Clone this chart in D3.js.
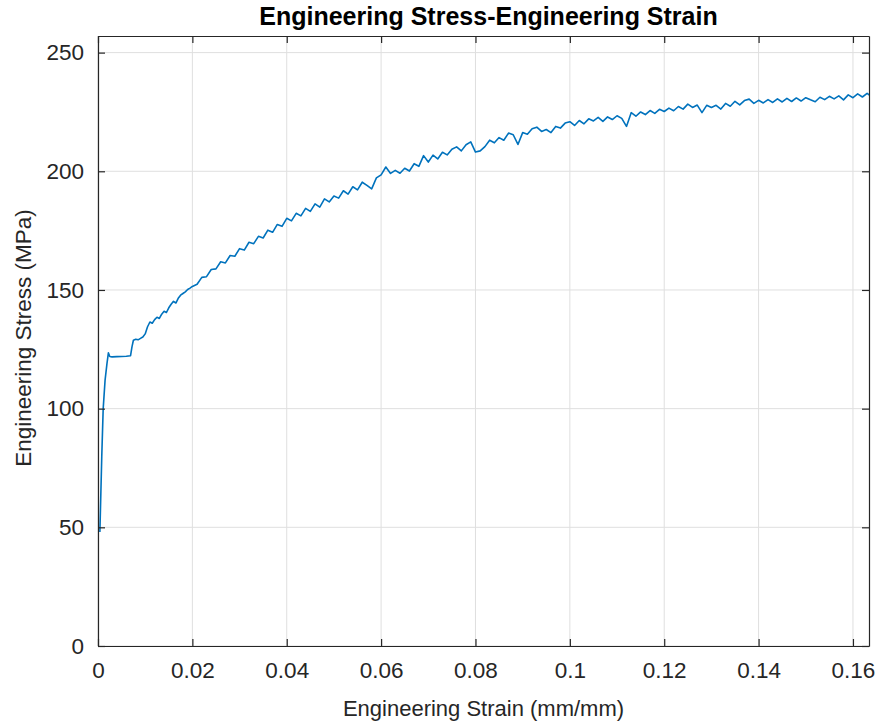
<!DOCTYPE html>
<html>
<head>
<meta charset="utf-8">
<script src="https://cdn.jsdelivr.net/npm/d3@7"></script>
<style>
  body { margin: 0; background: #fff; }
  svg { display: block; font-family: Arial, "Liberation Sans", Helvetica, sans-serif; }
</style>
</head>
<body>
<svg id="chart" width="882" height="727"></svg>
<script>
// axis setup
var xTicks = [0, 0.02, 0.04, 0.06, 0.08, 0.1, 0.12, 0.14, 0.16];
var yTicks = [0, 50, 100, 150, 200, 250];
var xLimits = [0, 0.1634];
var yLimits = [0, 257];

// engineering strain (mm/mm) vs engineering stress (MPa)
var strain = [
  0.0004, 0.0008, 0.0011, 0.0015, 0.0019, 0.0022, 0.0025, 0.003, 0.004, 0.005,
  0.006, 0.0069, 0.0072, 0.0075, 0.008, 0.0085, 0.009, 0.0095, 0.010, 0.0105,
  0.011, 0.0115, 0.012, 0.0125, 0.013, 0.0135, 0.014, 0.0145, 0.015, 0.0155,
  0.016, 0.0165, 0.017, 0.0175, 0.018, 0.0185, 0.019, 0.0195, 0.020,
  0.021, 0.022, 0.023, 0.024, 0.025, 0.026, 0.027, 0.028, 0.029, 0.030,
  0.031, 0.032, 0.033, 0.034, 0.035, 0.036, 0.037, 0.038, 0.039, 0.040,
  0.041, 0.042, 0.043, 0.044, 0.045, 0.046, 0.047, 0.048, 0.049, 0.050,
  0.051, 0.052, 0.053, 0.054, 0.055, 0.056, 0.057, 0.058, 0.059, 0.060,
  0.061, 0.062, 0.063, 0.064, 0.065, 0.066, 0.067, 0.068, 0.069, 0.070,
  0.071, 0.072, 0.073, 0.074, 0.075, 0.076, 0.077, 0.078, 0.079, 0.080,
  0.081, 0.082, 0.083, 0.084, 0.085, 0.086, 0.087, 0.088, 0.089, 0.090,
  0.091, 0.092, 0.093, 0.094, 0.095, 0.096, 0.097, 0.098, 0.099, 0.100,
  0.101, 0.102, 0.103, 0.104, 0.105, 0.106, 0.107, 0.108, 0.109, 0.110,
  0.111, 0.112, 0.113, 0.114, 0.115, 0.116, 0.117, 0.118, 0.119, 0.120,
  0.121, 0.122, 0.123, 0.124, 0.125, 0.126, 0.127, 0.128, 0.129, 0.130,
  0.131, 0.132, 0.133, 0.134, 0.135, 0.136, 0.137, 0.138, 0.139, 0.140,
  0.141, 0.142, 0.143, 0.144, 0.145, 0.146, 0.147, 0.148, 0.149, 0.150,
  0.151, 0.152, 0.153, 0.154, 0.155, 0.156, 0.157, 0.158, 0.159, 0.160,
  0.161, 0.162, 0.163, 0.1636, 0.1637
];
var stress = [
  48, 80, 100, 112, 119, 123.5, 122, 121.8, 121.9, 122,
  122.1, 122.3, 126, 128.8, 129.2, 129, 129.6, 130.2, 131.5, 134.5,
  136.5, 136, 137.5, 138.5, 138, 139.8, 141, 140.5, 142.5, 144,
  145.2, 144.5, 146.5, 147.8, 148.5, 149.2, 150.2, 150.8, 151.5,
  152.4, 155.3, 155.6, 158.6, 158.9, 161.9, 161.4, 164.5, 164.2, 167.4,
  166.8, 170.1, 169.5, 172.6, 171.9, 175.2, 174.3, 177.6, 176.8, 180.2,
  179.1, 182.3, 181.2, 184.4, 183.1, 186.3, 184.9, 188.4, 187.1, 189.6,
  188.7, 191.8, 190.4, 193.5, 192.2, 195.4, 194.1, 192.6, 197.2, 198.5,
  201.8, 199.1, 200.4, 199.2, 201.3, 200.1, 203.2, 202.1, 206.6, 203.9,
  206.8, 205.2, 208, 206.9, 209.3, 210.3, 208.6, 211.2, 212.4, 208.1,
  208.6, 210.4, 213.1, 212, 214.2, 213.1, 216.1, 215.4, 211.3, 216.3,
  215.6, 217.9, 218.6, 216.8, 217.6, 216.3, 218.9, 218.2, 220.3, 220.9,
  219.3, 221.4, 220, 222.1, 221.2, 222.7, 221, 222.9, 221.8, 223.4,
  222.3, 218.9, 224.7, 223.2, 225, 223.9, 225.6, 224.4, 226.1, 225.2,
  226.6, 225.5, 227.3, 226.2, 228.3, 226.9, 227.9, 224.7, 227.8, 226.9,
  227.8, 226.2, 228.6, 227.4, 229.5, 228, 229.8, 230.4, 228.6, 229.9,
  228.8, 230.2, 229, 230.5, 229.2, 230.7, 229.4, 230.9, 229.6, 231,
  230.1, 229.3, 231.2, 230.2, 231.6, 230.5, 231.8, 230.1, 232.2, 231,
  232.6, 231.3, 232.8, 231.9, 3
];

var svg = d3.select("#chart");
var margin = { top: 36, right: 13, bottom: 81, left: 98 };
var width = 882 - margin.left - margin.right;
var height = 727 - margin.top - margin.bottom;
var ink = "#262626";

var x = d3.scaleLinear().domain(xLimits).range([0, width]);
var y = d3.scaleLinear().domain(yLimits).range([height, 0]);

var g = svg.append("g").attr("transform", "translate(" + margin.left + "," + margin.top + ")");

// grid
g.append("g").selectAll("line").data(xTicks).enter().append("line")
  .attr("x1", function (d) { return x(d); }).attr("x2", function (d) { return x(d); })
  .attr("y1", 0).attr("y2", height)
  .attr("stroke", "#dfdfdf").attr("stroke-width", 1);
g.append("g").selectAll("line").data(yTicks).enter().append("line")
  .attr("y1", function (d) { return y(d); }).attr("y2", function (d) { return y(d); })
  .attr("x1", 0).attr("x2", width)
  .attr("stroke", "#dfdfdf").attr("stroke-width", 1);

// curve
g.append("defs").append("clipPath").attr("id", "clip")
  .append("rect").attr("width", width).attr("height", height);
var line = d3.line()
  .x(function (d, i) { return x(strain[i]); })
  .y(function (d) { return y(d); });
g.append("path")
  .datum(stress)
  .attr("clip-path", "url(#clip)")
  .attr("fill", "none")
  .attr("stroke", "#0072BD")
  .attr("stroke-width", 1.6)
  .attr("stroke-linejoin", "round")
  .attr("d", line);

// axes, MATLAB style: ticks inward on all four sides
var fmtX = function (d) { return d === 0 ? "0" : d3.format("~g")(d); };
var axBottom = g.append("g").attr("transform", "translate(0," + height + ")")
  .call(d3.axisBottom(x).tickValues(xTicks).tickFormat(fmtX).tickSizeInner(-7).tickSizeOuter(0).tickPadding(16));
var axLeft = g.append("g")
  .call(d3.axisLeft(y).tickValues(yTicks).tickSizeInner(-7).tickSizeOuter(0).tickPadding(14));
var axTop = g.append("g")
  .call(d3.axisTop(x).tickValues(xTicks).tickFormat("").tickSizeInner(-7).tickSizeOuter(0));
var axRight = g.append("g").attr("transform", "translate(" + width + ",0)")
  .call(d3.axisRight(y).tickValues(yTicks).tickFormat("").tickSizeInner(-7).tickSizeOuter(0));

[axBottom, axLeft, axTop, axRight].forEach(function (a) {
  a.select(".domain").attr("stroke", ink).attr("stroke-width", 1.2);
  a.selectAll(".tick line").attr("stroke", ink).attr("stroke-width", 1.2);
  a.selectAll("text").attr("fill", ink).style("font-size", "22.5px").attr("font-family", null);
});

// titles
svg.append("text")
  .attr("x", margin.left + width / 2 + 5).attr("y", 25)
  .attr("text-anchor", "middle")
  .attr("fill", "#000")
  .style("font-size", "25px").style("font-weight", "bold")
  .text("Engineering Stress-Engineering Strain");
svg.append("text")
  .attr("x", margin.left + width / 2).attr("y", 716)
  .attr("text-anchor", "middle")
  .attr("fill", ink)
  .style("font-size", "22px")
  .text("Engineering Strain (mm/mm)");
svg.append("text")
  .attr("transform", "translate(31," + (margin.top + height / 2 - 3) + ") rotate(-90)")
  .attr("text-anchor", "middle")
  .attr("fill", ink)
  .style("font-size", "22.5px")
  .text("Engineering Stress (MPa)");
</script>
</body>
</html>
